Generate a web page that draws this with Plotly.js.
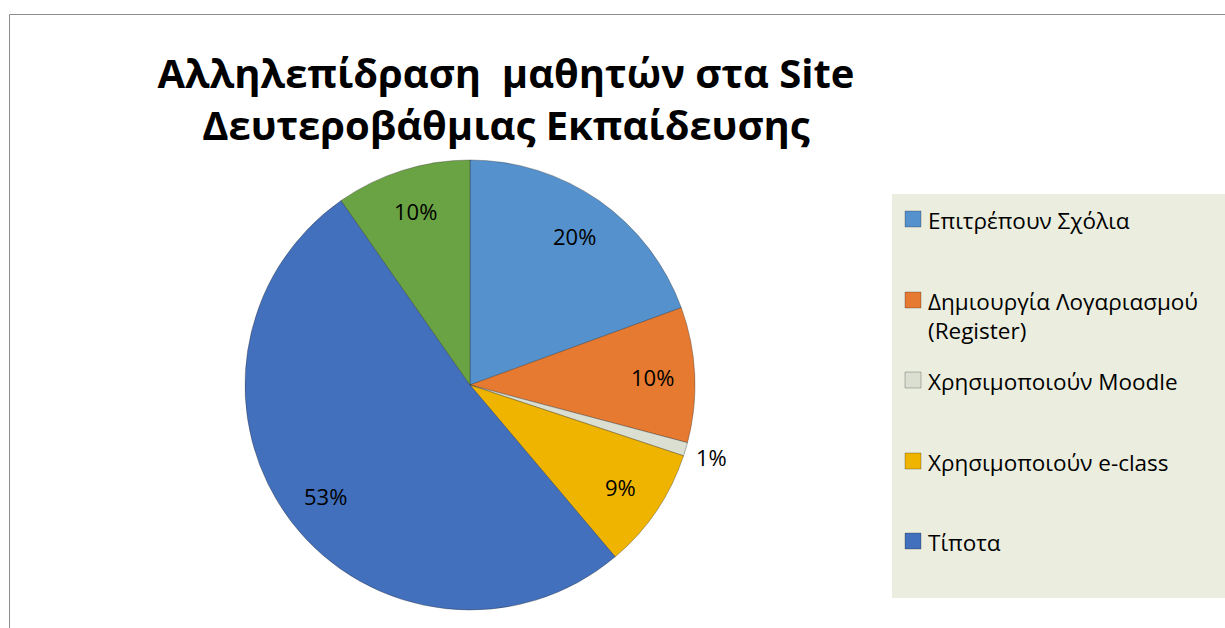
<!DOCTYPE html>
<html>
<head>
<meta charset="utf-8">
<script src="https://cdn.plot.ly/plotly-3.0.1.min.js"></script>
<style>html,body{margin:0;padding:0;background:#fff;}#chart{width:1225px;height:628px;}</style>
</head>
<body>
<div id="chart"></div>
<script>
const categories = ["Επιτρέπουν Σχόλια", "Δημιουργία Λογαριασμού<br>(Register)", "Χρησιμοποιούν Moodle", "Χρησιμοποιούν e-class", "Τίποτα", "Άλλο"];
const values = [20, 10, 1, 9, 53, 10];
const labelText = ["20%", "10%", "1%", "9%", "53%", "10%"];
const colors = ["#5592CD", "#E77A31", "#DADFD2", "#EFB400", "#4270BD", "#6AA343"];
const legendCount = 5;
const legendY = [219, 300, 380, 461, 541];

const W = 1225, H = 628;
const cx = 470, cy = 385, r = 225;
const font = "Open Sans, sans-serif";

const trace = {
  type: "pie",
  labels: categories,
  values: values,
  textinfo: "none",
  sort: false,
  direction: "clockwise",
  rotation: 0,
  marker: {colors: colors, line: {color: "rgba(40,40,40,0.35)", width: 1}},
  domain: {x: [(cx - r) / W, (cx + r) / W], y: [1 - (cy + r) / H, 1 - (cy - r) / H]},
  showlegend: false,
  hoverinfo: "label+percent"
};

const shapes = [
  {type: "rect", xref: "paper", yref: "paper", x0: 9.5 / W, x1: 1.01, y0: -0.01, y1: 1 - 14.5 / H,
   line: {color: "#8C8C8C", width: 1}, fillcolor: "rgba(0,0,0,0)", layer: "below"},
  {type: "rect", xref: "paper", yref: "paper", x0: 892 / W, x1: 1.01, y0: 1 - 598 / H, y1: 1 - 194 / H,
   line: {width: 0}, fillcolor: "#EBEEDF", layer: "below"}
];
const annotations = [];

// data labels placed like Excel's best-fit, from the slice angles
const total = values.reduce((a, b) => a + b, 0);
let cum = 0;
for (let i = 0; i < values.length; i++) {
  const mid = (cum + values[i] / 2) / total * 2 * Math.PI;
  cum += values[i];
  const small = values[i] / total < 0.03;
  const rr = small ? r * 1.12 : r * 0.81;
  const px = cx + rr * Math.sin(mid);
  const py = cy - rr * Math.cos(mid);
  annotations.push({xref: "paper", yref: "paper", x: px / W, y: 1 - py / H,
    xanchor: "center", yanchor: "middle", showarrow: false, text: labelText[i],
    font: {family: font, size: 22, color: "#000"}});
}

for (let i = 0; i < legendCount; i++) {
  const y = legendY[i];
  shapes.push({type: "rect", xref: "paper", yref: "paper",
    x0: 905 / W, x1: 921 / W, y0: 1 - (y + 8) / H, y1: 1 - (y - 8) / H,
    line: {color: "rgba(0,0,0,0.25)", width: 1}, fillcolor: colors[i]});
  annotations.push({xref: "paper", yref: "paper", x: 926 / W, y: 1 - (y - 16) / H,
    xanchor: "left", yanchor: "top", align: "left", showarrow: false,
    text: categories[i], font: {family: font, size: 22.5, color: "#000"}});
}

const layout = {
  width: W, height: H,
  margin: {l: 0, r: 0, t: 0, b: 0},
  paper_bgcolor: "#fff",
  title: {text: "Αλληλεπίδραση  μαθητών στα Site<br>Δευτεροβάθμιας Εκπαίδευσης",
    xref: "paper", yref: "paper", x: 506 / W, xanchor: "center", y: 1 - 88 / H, yanchor: "middle",
    font: {family: font, size: 40, color: "#000", weight: 700}},
  shapes: shapes,
  annotations: annotations,
  showlegend: false
};

Plotly.newPlot("chart", [trace], layout, {displayModeBar: false, staticPlot: true});
</script>
</body>
</html>
